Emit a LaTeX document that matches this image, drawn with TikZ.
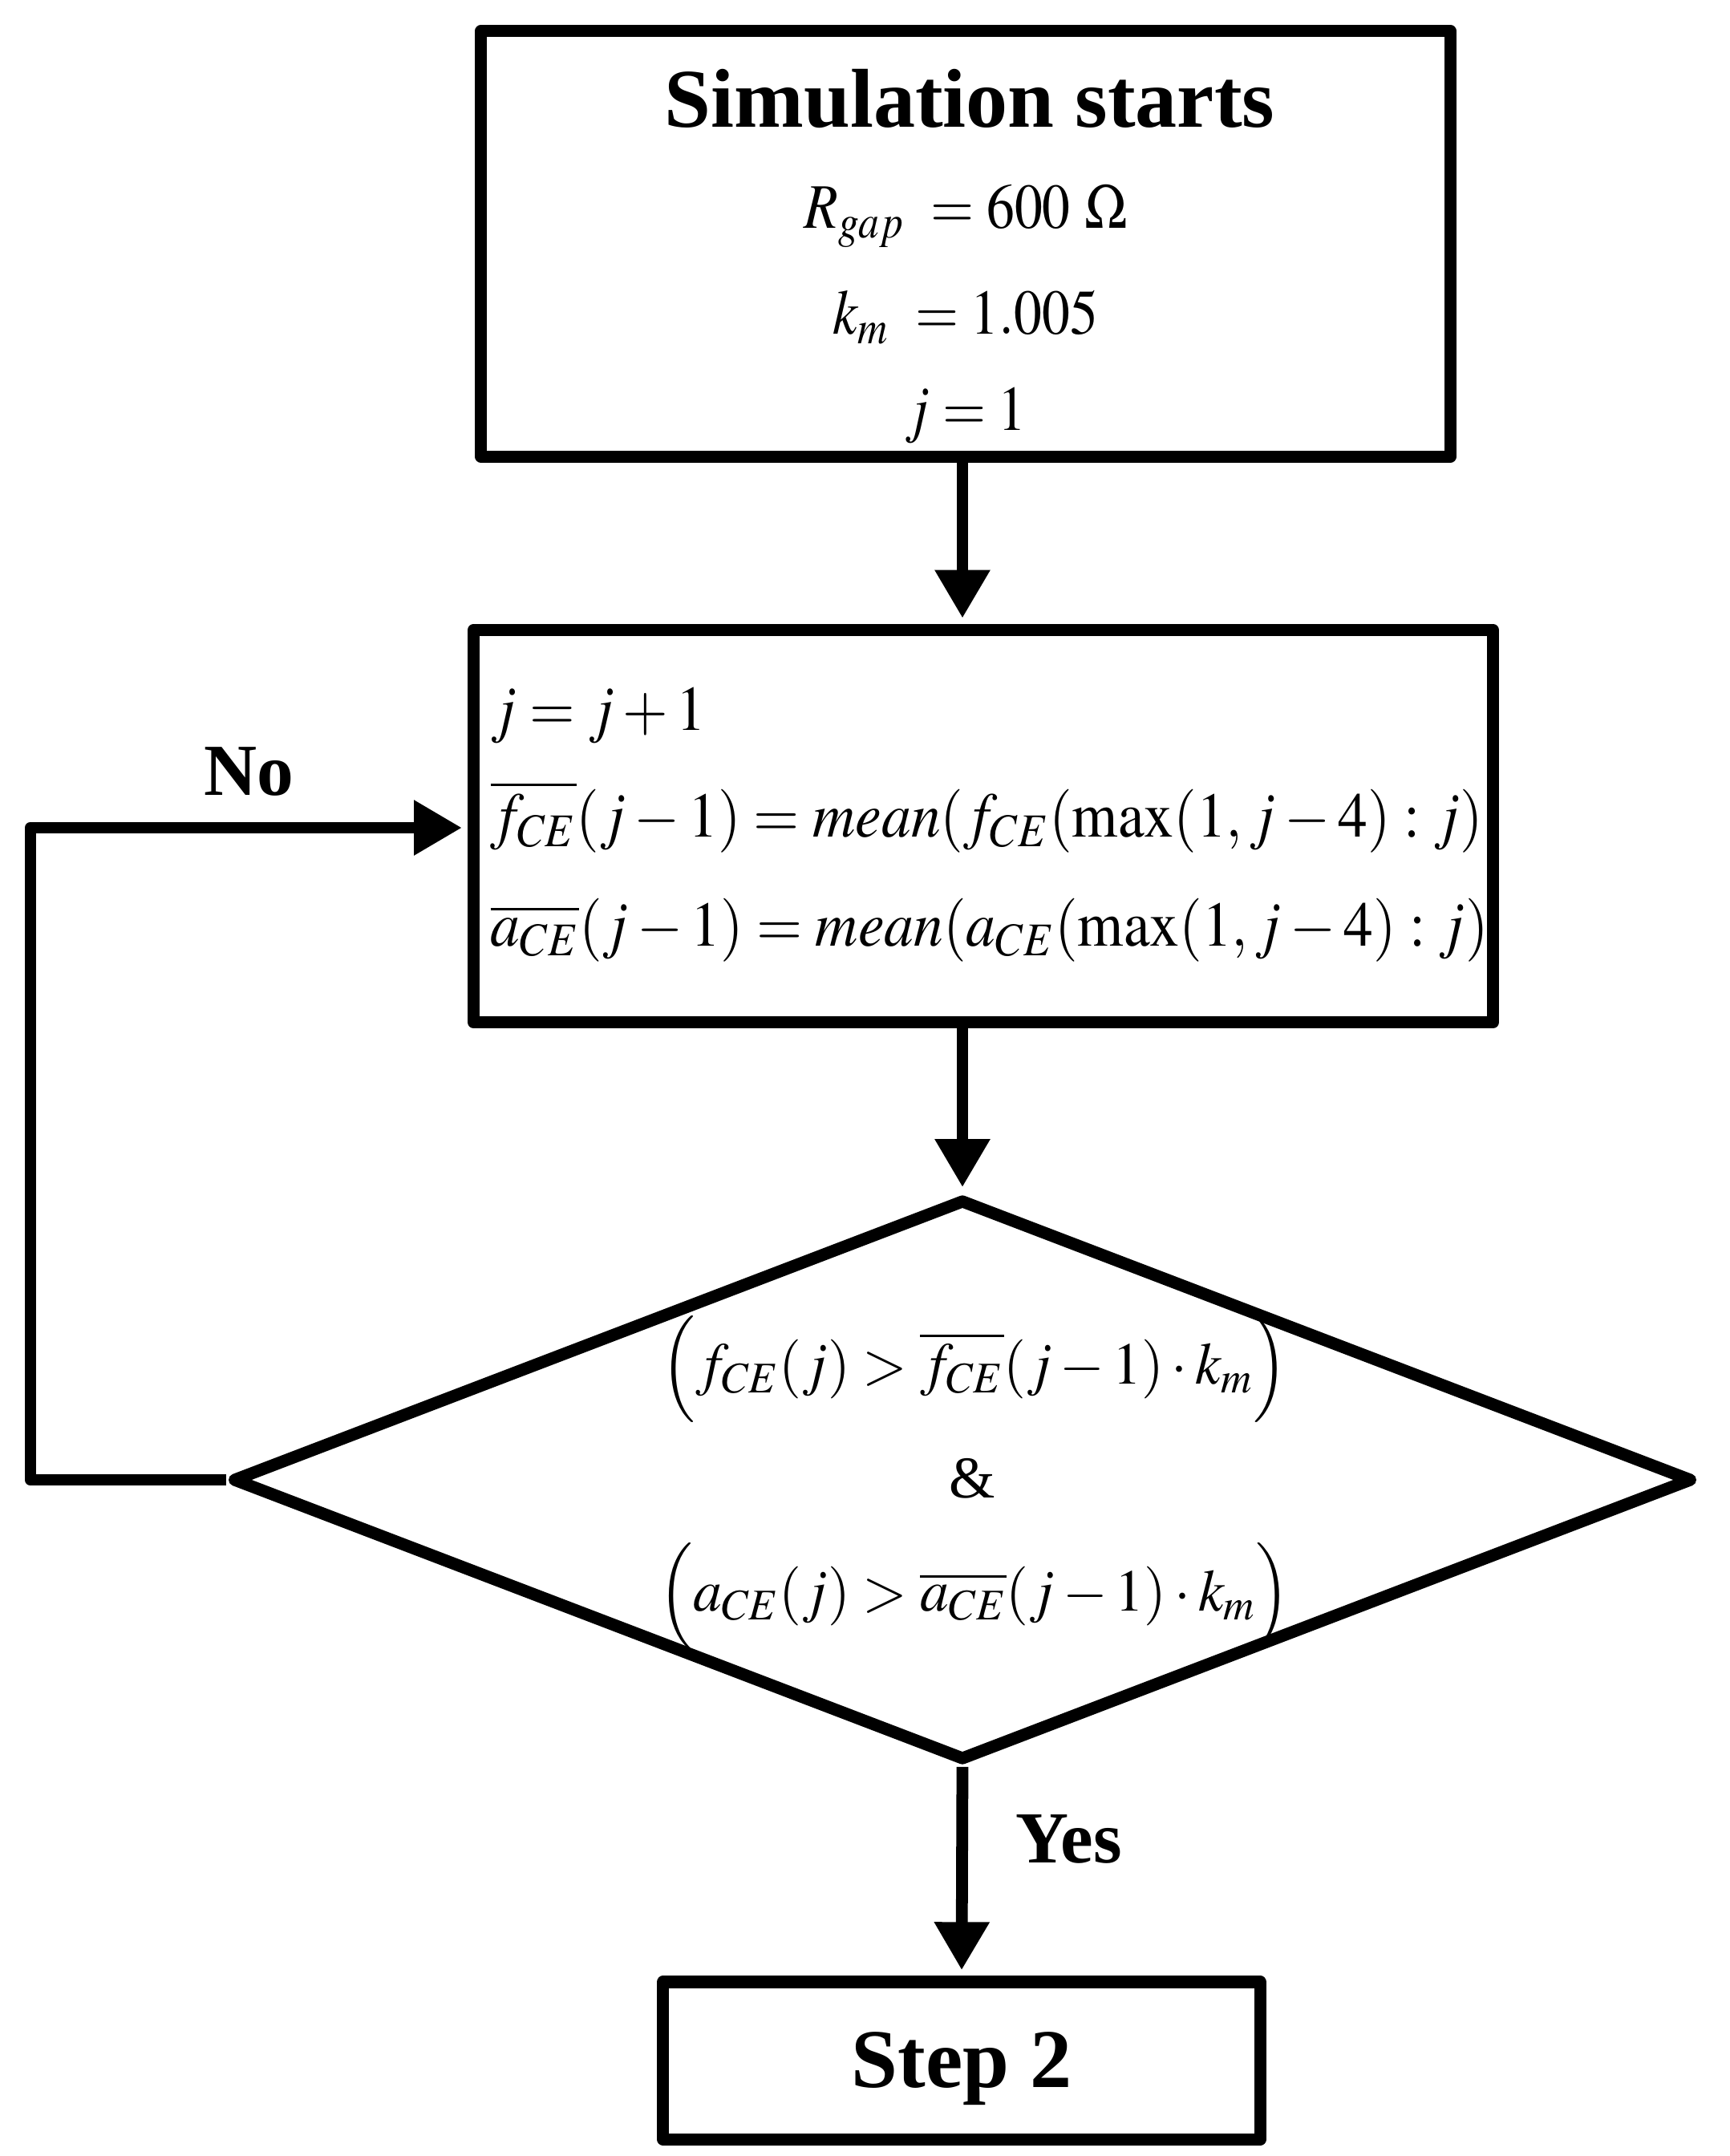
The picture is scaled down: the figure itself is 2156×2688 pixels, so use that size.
\documentclass[tikz,border=0pt]{standalone}
\usepackage{mathptmx}
\usepackage{fontspec}
\setmainfont{Liberation Serif}
\usetikzlibrary{arrows.meta}
\usetikzlibrary{shapes.geometric}
\tikzset{>={Triangle[length=0.6cm,width=0.65cm]}}
\tikzset{box/.style={draw,line width=4.3pt,line join=round,inner sep=0pt}}
\tikzset{flow/.style={line width=4.2pt,line join=round,shorten >=2pt}}
\tikzset{txt/.style={inner sep=0pt,font=\fontsize{22.5}{27}\selectfont}}
\tikzset{bigtxt/.style={inner sep=0pt,font=\fontsize{29.6}{35}\selectfont\bfseries}}
\tikzset{lbl/.style={inner sep=0pt,font=\fontsize{26}{31}\selectfont\bfseries}}

\begin{document}
\begin{tikzpicture}[x=0.01cm,y=-0.01cm]
                \useasboundingbox (0,0) rectangle (2156,2688);

                \node[box,minimum width=12.08cm,minimum height=5.30cm] (start) at (1204,304) {};
                \node[box,minimum width=12.70cm,minimum height=4.89cm] (upd) at (1226,1030) {};
                \node[box,diamond,minimum width=18.20cm,minimum height=7.00cm] (cond) at (1200,1845) {};
                \node[box,minimum width=7.44cm,minimum height=1.96cm] (stop) at (1199,2569) {};
                \coordinate (loop) at (38,1032);

                % texts
                \node[bigtxt,anchor=base] (ttl) at (1209,159) {Simulation starts};
                \node[txt,anchor=base] (rgap) at (1204,285) {\scalebox{0.88}[1]{$R_{gap}\ = 600\ \Omega$}};
                \node[txt,anchor=base] (km) at (1204,417) {\scalebox{0.88}[1]{$k_m\ = 1.005$}};
                \node[txt,anchor=base] (j1) at (1204,537) {\scalebox{0.88}[1]{$j = 1$}};

                \node[txt,anchor=base west] (inc) at (611,910) {\scalebox{0.92}[1]{$j = j + 1$}};
                \node[txt,anchor=base west] (fm) at (611,1043)
                    {\scalebox{0.93}[1]{$\overline{f_{CE}}(j-1) = mean(f_{CE}(\max(1, j-4) : j)$}};
                \node[txt,anchor=base west] (am) at (611,1179)
                    {\scalebox{0.93}[1]{$\overline{a_{CE}}(j-1) = mean(a_{CE}(\max(1, j-4) : j)$}};

                \node[txt,font=\fontsize{21}{25}\selectfont,anchor=base] (fc) at (1215,1725)
                    {\scalebox{0.97}[1]{$\Bigl(f_{CE}(j) > \overline{f_{CE}}(j-1)\cdot k_m\Bigr)$}};
                \node[txt,font=\fontsize{21}{25}\selectfont,anchor=base] (and) at (1212,1867) {\&};
                \node[txt,font=\fontsize{21}{25}\selectfont,anchor=base] (ac) at (1215,2008)
                    {\scalebox{0.97}[1]{$\Bigl(a_{CE}(j) > \overline{a_{CE}}(j-1)\cdot k_m\Bigr)$}};

                \node[bigtxt,anchor=base] (st2) at (1199,2602) {Step 2};
                \node[lbl,anchor=base] (no) at (310,991) {No};
                \node[lbl,anchor=base] (yes) at (1333,2322) {Yes};

                \draw[flow,->] (start.south -| cond) -- (upd.north -| cond);
                \draw[flow,->] (upd.south -| cond) -- (cond.north);
                \draw[flow,->] (cond.south) -- (stop.north);
                \draw[flow,->] (cond.west) -| (loop) -- (upd.west |- loop);
            \end{tikzpicture}
\end{document}
